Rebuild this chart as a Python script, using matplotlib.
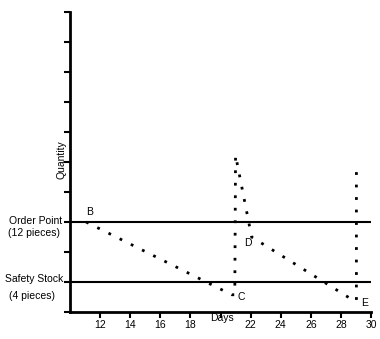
import matplotlib
matplotlib.use("Agg")
import matplotlib.pyplot as plt

# inventory path (day, quantity)
days = [11.07, 20.75, 20.95, 21.0, 22.07, 28.87, 29.03, 29.03]
qty = [12.0, 2.3, 2.3, 20.9, 10.0, 1.5, 1.5, 19.2]

order_point = 12
safety_stock = 4

x_ticks = [12, 14, 16, 18, 20, 22, 24, 26, 28, 30]
x_labels = ["12", "14", "16", "18", "", "22", "24", "26", "28", "30"]
y_ticks = list(range(0, 41, 4))

point_labels = ["B", "C", "D", "E"]
point_pos = [(11.3, 13.3), (21.4, 2.0), (21.85, 9.2), (29.55, 1.2)]

plt.rcParams['font.family'] = ['Liberation Sans', 'DejaVu Sans']
fs = 7.5

fig = plt.figure(figsize=(3.8, 3.39), dpi=100)
ax = fig.add_axes([70 / 380, 27 / 339, 301 / 380, 300 / 339])

ax.axhline(order_point, color='black', lw=1.5)
ax.axhline(safety_stock, color='black', lw=1.5)
ax.plot(days, qty, color='black', lw=2, linestyle=(0, (1, 3.5)))

for lab, (x, y) in zip(point_labels, point_pos):
    ax.text(x, y, lab, fontsize=fs, ha='center', va='center')

ax.set_xlim(10, 30)
ax.set_ylim(0, 40)
ax.set_xticks(x_ticks)
ax.set_xticklabels(x_labels, fontsize=fs)
ax.set_yticks(y_ticks)
ax.set_yticklabels([])
ax.tick_params(axis='both', direction='out', length=4, width=1.5, pad=2)

for s in ['top', 'right']:
    ax.spines[s].set_visible(False)
for s in ['left', 'bottom']:
    ax.spines[s].set_linewidth(2)

tr = ax.get_yaxis_transform()
ax.text(-0.116, 12.1, "Order Point", transform=tr, fontsize=fs, ha='center', va='center')
ax.text(-0.12, 10.5, "(12 pieces)", transform=tr, fontsize=fs, ha='center', va='center')
ax.text(-0.12, 4.4, "Safety Stock", transform=tr, fontsize=fs, ha='center', va='center')
ax.text(-0.127, 2.1, "(4 pieces)", transform=tr, fontsize=fs, ha='center', va='center')
ax.text(-0.027, 20.3, "Quantity", transform=tr, fontsize=fs, ha='center', va='center', rotation=90)
ax.text(20.1, -0.02, "Days", transform=ax.get_xaxis_transform(), fontsize=fs, ha='center', va='center')

fig.savefig("out.png", dpi=100)
